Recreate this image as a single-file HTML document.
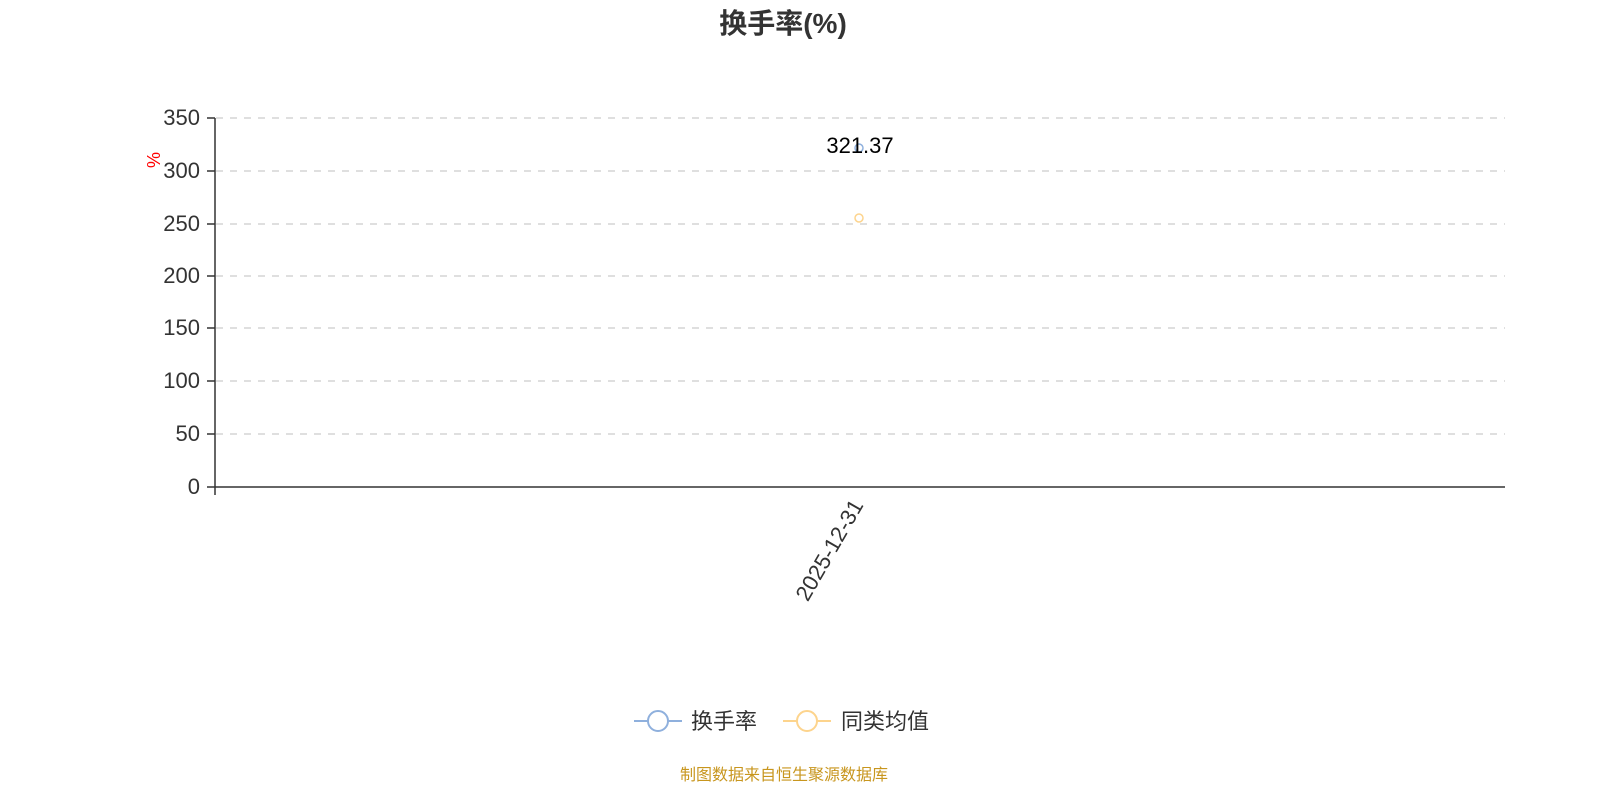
<!DOCTYPE html>
<html><head><meta charset="utf-8"><style>
html,body{margin:0;padding:0;background:#fff;}
svg{display:block;font-family:"Liberation Sans","Noto Sans CJK SC",sans-serif;}
</style></head><body>
<svg width="1600" height="800" viewBox="0 0 1600 800" xmlns="http://www.w3.org/2000/svg">
<text x="783" y="33" text-anchor="middle" font-size="28" font-weight="bold" fill="#333">换手率(%)</text>
<g stroke="#ccc" stroke-width="1.2" stroke-dasharray="7,7">
<line x1="216" y1="118" x2="1505" y2="118"/>
<line x1="216" y1="171" x2="1505" y2="171"/>
<line x1="216" y1="224" x2="1505" y2="224"/>
<line x1="216" y1="276" x2="1505" y2="276"/>
<line x1="216" y1="328" x2="1505" y2="328"/>
<line x1="216" y1="381" x2="1505" y2="381"/>
<line x1="216" y1="434" x2="1505" y2="434"/>
</g>
<g stroke="#333" stroke-width="1.5">
<line x1="215" y1="118" x2="215" y2="495"/>
<line x1="215" y1="487" x2="1505" y2="487"/>
<line x1="207" y1="118" x2="215" y2="118"/>
<line x1="207" y1="171" x2="215" y2="171"/>
<line x1="207" y1="224" x2="215" y2="224"/>
<line x1="207" y1="276" x2="215" y2="276"/>
<line x1="207" y1="328" x2="215" y2="328"/>
<line x1="207" y1="381" x2="215" y2="381"/>
<line x1="207" y1="434" x2="215" y2="434"/>
<line x1="207" y1="487" x2="215" y2="487"/>
</g>
<g font-size="22" fill="#333" text-anchor="end">
<text x="200" y="125">350</text>
<text x="200" y="178">300</text>
<text x="200" y="231">250</text>
<text x="200" y="283">200</text>
<text x="200" y="335">150</text>
<text x="200" y="388">100</text>
<text x="200" y="441">50</text>
<text x="200" y="494">0</text>
</g>
<text transform="translate(160,160) rotate(-90)" font-size="18" fill="red" text-anchor="middle">%</text>
<text transform="translate(864,505) rotate(-60)" font-size="22" fill="#333" text-anchor="end">2025-12-31</text>
<circle cx="859" cy="148" r="4" fill="none" stroke="#8fb0dd" stroke-width="1.5"/>
<circle cx="859" cy="218" r="4" fill="none" stroke="#fdd48d" stroke-width="1.5"/>
<text x="860" y="153" font-size="22" fill="#000" text-anchor="middle">321.37</text>
<line x1="634" y1="721" x2="682" y2="721" stroke="#8fb0dd" stroke-width="2"/>
<circle cx="658" cy="721" r="10" fill="#fff" stroke="#8fb0dd" stroke-width="2"/>
<text x="691" y="729" font-size="22" fill="#333">换手率</text>
<line x1="783" y1="721" x2="831" y2="721" stroke="#fdd48d" stroke-width="2"/>
<circle cx="807" cy="721" r="10" fill="#fff" stroke="#fdd48d" stroke-width="2"/>
<text x="841" y="729" font-size="22" fill="#333">同类均值</text>
<text x="784" y="780" font-size="16" fill="#c8961e" text-anchor="middle">制图数据来自恒生聚源数据库</text>
</svg>
</body></html>
